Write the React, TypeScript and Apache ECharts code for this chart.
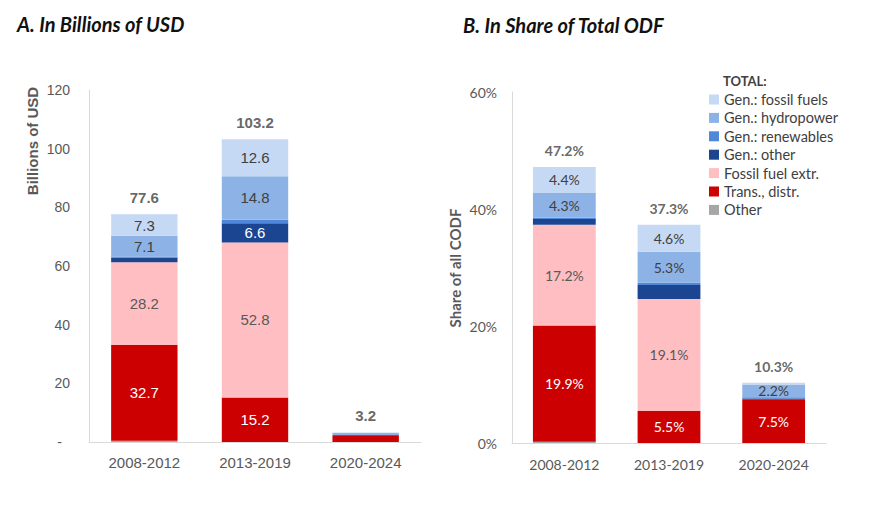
import React, { useEffect, useRef } from "react";
import * as echarts from "echarts";

const periods = ["2008-2012", "2013-2019", "2020-2024"];

// Panel A: billions of USD (stack order bottom → top)
const usdOther = [0.4, 0, 0];
const usdTrans = [32.7, 15.2, 2.3];
const usdExtr = [28.2, 52.8, 0];
const usdGenOther = [1.5, 6.6, 0.05];
const usdGenRenew = [0.4, 1.2, 0.05];
const usdGenHydro = [7.1, 14.8, 0.7];
const usdGenFossil = [7.3, 12.6, 0.1];
const usdTotals = [77.6, 103.2, 3.2];

// Panel B: share of total ODF (%)
const shrOther = [0.2, 0, 0];
const shrTrans = [19.9, 5.5, 7.5];
const shrExtr = [17.2, 19.1, 0];
const shrGenOther = [1.0, 2.4, 0.1];
const shrGenRenew = [0.2, 0.4, 0.2];
const shrGenHydro = [4.3, 5.3, 2.2];
const shrGenFossil = [4.4, 4.6, 0.3];
const shrTotals = [47.2, 37.3, 10.3];

// which segments carry a value label
const usdLblTrans = [true, true, false];
const usdLblExtr = [true, true, false];
const usdLblGenOther = [false, true, false];
const usdLblHydro = [true, true, false];
const usdLblFossil = [true, true, false];
const shrLblTrans = [true, true, true];
const shrLblExtr = [true, true, false];
const shrLblHydro = [true, true, true];
const shrLblFossil = [true, true, false];
const noLbl = [false, false, false];

const seriesNames = [
  "Other",
  "Trans., distr.",
  "Fossil fuel extr.",
  "Gen.: other",
  "Gen.: renewables",
  "Gen.: hydropower",
  "Gen.: fossil fuels",
];
const seriesColors = ["#a6a6a6", "#cc0000", "#ffbfc2", "#1b4591", "#4f88d8", "#8db3e6", "#c6d9f4"];
const labelColors = ["#ffffff", "#ffffff", "#595959", "#ffffff", "#ffffff", "#404040", "#404040"];
const legendOrder = [
  "Gen.: fossil fuels",
  "Gen.: hydropower",
  "Gen.: renewables",
  "Gen.: other",
  "Fossil fuel extr.",
  "Trans., distr.",
  "Other",
];

const ARIAL = "'Liberation Sans', Arial, sans-serif";
const CAL = "Lato, 'Noto Sans', sans-serif";

function buildSeries(
  idx: number,
  values: number[][],
  labels: boolean[][],
  totals: number[],
  fmt: (v: number) => string,
  font: string
) {
  const out: any[] = values.map((vals, s) => ({
    type: "bar",
    name: seriesNames[s],
    stack: "s" + idx,
    xAxisIndex: idx,
    yAxisIndex: idx,
    barWidth: "60%",
    itemStyle: { color: seriesColors[s] },
    label: {
      position: "inside",
      color: labelColors[s],
      fontFamily: font,
      fontSize: idx === 0 ? 15 : 14,
      formatter: (p: any) => fmt(p.value),
    },
    data: vals.map((v, i) => ({ value: v, label: { show: labels[s][i] } })),
  }));
  out.push({
    type: "scatter",
    name: "total" + idx,
    xAxisIndex: idx,
    yAxisIndex: idx,
    symbolSize: 1,
    itemStyle: { color: "rgba(0,0,0,0)" },
    label: {
      show: true,
      position: "top",
      distance: 9,
      color: "#404040",
      fontWeight: "bold",
      fontFamily: font,
      fontSize: idx === 0 ? 15 : 14,
      formatter: (p: any) => fmt(p.value),
    },
    data: totals,
  });
  return out;
}

export default function App() {
  const ref = useRef<HTMLDivElement>(null);
  useEffect(() => {
    if (!ref.current) return;
    const chart = echarts.init(ref.current, undefined, { renderer: "svg" });
    const usdVals = [usdOther, usdTrans, usdExtr, usdGenOther, usdGenRenew, usdGenHydro, usdGenFossil];
    const usdLbls = [noLbl, usdLblTrans, usdLblExtr, usdLblGenOther, noLbl, usdLblHydro, usdLblFossil];
    const shrVals = [shrOther, shrTrans, shrExtr, shrGenOther, shrGenRenew, shrGenHydro, shrGenFossil];
    const shrLbls = [noLbl, shrLblTrans, shrLblExtr, noLbl, noLbl, shrLblHydro, shrLblFossil];

    const axisLine = { show: true, lineStyle: { color: "#d9d9d9", width: 1 } };
    chart.setOption({
      animation: false,
      grid: [
        { left: 89, top: 90, width: 332, height: 352 },
        { left: 512, top: 92, width: 314, height: 351 },
      ],
      xAxis: [
        {
          type: "category",
          gridIndex: 0,
          data: periods,
          axisLine,
          axisTick: { show: false },
          axisLabel: { color: "#595959", fontSize: 15, fontFamily: ARIAL, margin: 13 },
        },
        {
          type: "category",
          gridIndex: 1,
          data: periods,
          axisLine,
          axisTick: { show: false },
          axisLabel: { color: "#595959", fontSize: 14, fontFamily: CAL, margin: 14 },
        },
      ],
      yAxis: [
        {
          type: "value",
          gridIndex: 0,
          min: 0,
          max: 120,
          interval: 20,
          axisLine,
          axisTick: { show: false },
          splitLine: { show: false },
          axisLabel: {
            color: "#595959",
            fontSize: 14,
            fontFamily: ARIAL,
            margin: 19,
            formatter: (v: number) => (v === 0 ? "{d|-}" : String(v)),
            rich: { d: { color: "#595959", fontSize: 14, fontFamily: ARIAL, padding: [0, 8, 0, 0] } },
          },
        },
        {
          type: "value",
          gridIndex: 1,
          min: 0,
          max: 60,
          interval: 20,
          axisLine,
          axisTick: { show: false },
          splitLine: { show: false },
          axisLabel: {
            color: "#595959",
            fontSize: 14,
            fontFamily: CAL,
            margin: 15,
            formatter: (v: number) => v + "%",
          },
        },
      ],
      legend: {
        data: legendOrder,
        orient: "vertical",
        left: 709,
        top: 92,
        padding: 0,
        itemWidth: 10,
        itemHeight: 10,
        itemGap: 3.4,
        icon: "rect",
        selectedMode: false,
        textStyle: { color: "#404040", fontSize: 14.5, lineHeight: 14, fontFamily: CAL },
      },
      graphic: [
        {
          type: "text",
          left: 17,
          top: 14,
          style: {
            text: "A. In Billions of USD",
            font: "italic bold 20px Lato, sans-serif",
            fill: "#111111",
          },
        },
        {
          type: "text",
          left: 463,
          top: 15,
          style: {
            text: "B. In Share of Total ODF",
            font: "italic bold 20px Lato, sans-serif",
            fill: "#111111",
          },
        },
        {
          type: "text",
          x: 32,
          y: 141,
          rotation: Math.PI / 2,
          style: {
            text: "Billions of USD",
            font: "bold 15px 'Liberation Sans', Arial, sans-serif",
            fill: "#595959",
            align: "center",
            verticalAlign: "middle",
          },
        },
        {
          type: "text",
          x: 455,
          y: 268,
          rotation: Math.PI / 2,
          style: {
            text: "Share of all CODF",
            font: "bold 15px Lato, sans-serif",
            fill: "#595959",
            align: "center",
            verticalAlign: "middle",
          },
        },
        {
          type: "text",
          left: 723,
          top: 74,
          style: {
            text: "TOTAL:",
            font: "bold 13px Lato, sans-serif",
            fill: "#404040",
          },
        },
      ],
      series: [
        ...buildSeries(0, usdVals, usdLbls, usdTotals, (v) => v.toFixed(1), ARIAL),
        ...buildSeries(1, shrVals, shrLbls, shrTotals, (v) => v.toFixed(1) + "%", CAL),
      ],
    });
    return () => chart.dispose();
  }, []);
  return (
    <div
      ref={ref}
      style={{ position: "fixed", left: 0, top: 0, width: 878, height: 512, background: "#ffffff" }}
    />
  );
}
